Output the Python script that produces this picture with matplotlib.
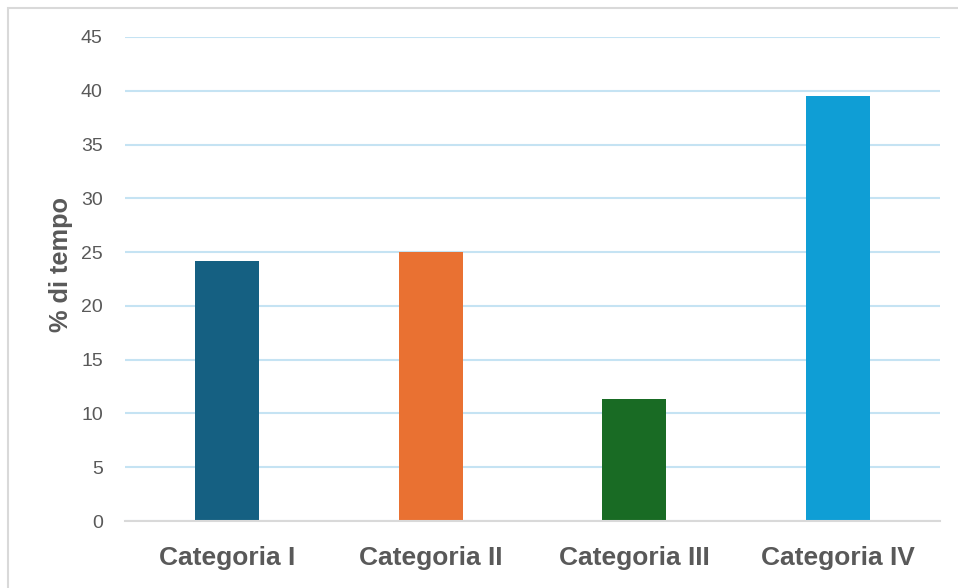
import matplotlib.pyplot as plt
from matplotlib.patches import Rectangle

# dati
categorie = ['Categoria I', 'Categoria II', 'Categoria III', 'Categoria IV']
valori = [24.2, 25.0, 11.3, 39.5]
colori = ['#156082', '#E97132', '#196B24', '#0F9ED5']
yticks = [0, 5, 10, 15, 20, 25, 30, 35, 40, 45]

plt.rcParams['font.family'] = ['Liberation Sans', 'DejaVu Sans']
testo = '#595959'

fig = plt.figure(figsize=(9.58, 5.88), dpi=100)
ax = fig.add_axes([0.1305, 0.1139, 0.9812 - 0.1305, 0.9371 - 0.1139])

# cornice esterna grigia
fig.patches.append(Rectangle((8 / 958, -0.05), 1.1, 1 - 8 / 588 + 0.05,
                             transform=fig.transFigure, fill=False,
                             edgecolor='#d9d9d9', linewidth=1.5))

x = range(len(categorie))
ax.bar(x, valori, width=0.314, color=colori, zorder=3)

ax.set_xlim(-0.5, len(categorie) - 0.5)
ax.set_ylim(0, 45)
ax.set_yticks(yticks)
ax.set_xticks(list(x))
ax.set_xticklabels(categorie, fontsize=19, fontweight='bold', color=testo)
ax.tick_params(axis='y', labelsize=14, labelcolor=testo, length=0, pad=16)
ax.tick_params(axis='x', length=0, pad=18)
ax.set_ylabel('% di tempo', fontsize=18.3, fontweight='bold', color=testo, labelpad=6)
ax.yaxis.label.set_y(0.529)

ax.grid(True, axis='y', color='#c5e3f3', linewidth=1.5, zorder=0)
for s in ['top', 'right', 'left']:
    ax.spines[s].set_visible(False)
ax.spines['bottom'].set_color('#d9d9d9')
ax.spines['bottom'].set_linewidth(1.5)
ax.spines['bottom'].set_zorder(4)

fig.savefig('out.png', dpi=100)
